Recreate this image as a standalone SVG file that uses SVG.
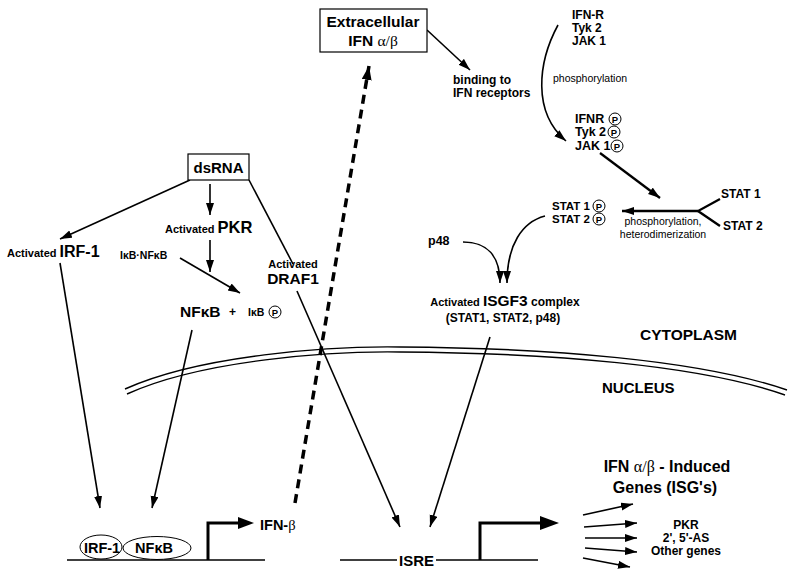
<svg xmlns="http://www.w3.org/2000/svg" width="795" height="576" viewBox="0 0 795 576">
<style>
text{font-family:"Liberation Sans",Arial,sans-serif;font-weight:bold;fill:#000}
.s{font-size:12px}
.m{font-size:15.5px}
.sm{font-size:11px}
.n{font-weight:normal;font-size:10.5px}
.g{font-family:"Liberation Serif",serif;font-weight:normal}
.ln{stroke:#000;fill:none;stroke-width:1.6}
.th{stroke:#000;fill:none;stroke-width:2.3}
.box{fill:#fff;stroke:#000;stroke-width:1.2}
.pc{fill:#fff;stroke:#000;stroke-width:1}
.pt{font-size:9.5px;text-anchor:middle}
</style>
<defs>
<marker id="ah" markerUnits="userSpaceOnUse" markerWidth="14" markerHeight="10" refX="12" refY="4" orient="auto">
<path d="M0,0 L12,4 L0,8 z" fill="#000"/>
</marker>
<marker id="ahb" markerUnits="userSpaceOnUse" markerWidth="16" markerHeight="12" refX="14" refY="5" orient="auto">
<path d="M0,0 L14,5 L0,10 z" fill="#000"/>
</marker>
</defs>

<g id="membrane" fill="none" stroke="#000" stroke-width="1.4">
<path d="M125,389 C200,355 330,346 400,347 C550,348 700,360 787,390"/>
<path d="M127,394 C202,360 330,351 400,352 C550,353 700,365 785,395"/>
</g>

<g id="connectors">
<line class="ln" x1="427" y1="30" x2="470" y2="70" marker-end="url(#ah)"/>
<line x1="295" y1="503" x2="369" y2="66" stroke="#000" stroke-width="3.5" stroke-dasharray="9,6" marker-end="url(#ahb)"/>
<path class="ln" d="M558,25 C538,62 532,112 566,141" marker-end="url(#ah)"/>
<line class="th" x1="600" y1="153" x2="660" y2="198" marker-end="url(#ah)"/>
<polyline class="th" points="720,199 698,211 720,226"/>
<line class="th" x1="698" y1="211" x2="622" y2="211" marker-end="url(#ah)"/>
<path class="ln" d="M463,242 C487,242 500,256 500,283" marker-end="url(#ah)"/>
<path class="ln" d="M545,216 C522,222 507,245 507,283" marker-end="url(#ah)"/>
<line class="ln" x1="490" y1="337" x2="430" y2="527" marker-end="url(#ah)"/>
<line class="ln" x1="190" y1="180" x2="60" y2="239" marker-end="url(#ah)"/>
<line class="ln" x1="210" y1="184" x2="210" y2="215" marker-end="url(#ah)"/>
<line class="ln" x1="210" y1="240" x2="210" y2="272" marker-end="url(#ah)"/>
<line class="ln" x1="180" y1="258" x2="240" y2="293" marker-end="url(#ah)"/>
<line class="ln" x1="60" y1="263" x2="100" y2="508" marker-end="url(#ah)"/>
<line class="ln" x1="192" y1="330" x2="152" y2="508" marker-end="url(#ah)"/>
<line class="ln" x1="249" y1="180" x2="293" y2="264"/>
<line class="ln" x1="297" y1="291" x2="400" y2="527" marker-end="url(#ah)"/>
<line class="ln" x1="583" y1="515" x2="633" y2="504" marker-end="url(#ah)"/>
<line class="ln" x1="584" y1="527" x2="637" y2="523" marker-end="url(#ah)"/>
<line class="ln" x1="585" y1="538" x2="637" y2="538" marker-end="url(#ah)"/>
<line class="ln" x1="585" y1="548" x2="637" y2="552" marker-end="url(#ah)"/>
<line class="ln" x1="583" y1="558" x2="630" y2="567" marker-end="url(#ah)"/>
</g>

<g id="extracellular">
<rect class="box" x="320" y="9" width="107" height="43"/>
<text class="m" x="373" y="27" text-anchor="middle">Extracellular</text>
<text class="m" x="373" y="46" text-anchor="middle">IFN <tspan class="g">α/β</tspan></text>
</g>

<g id="binding">
<text class="s" x="453" y="84">binding to</text>
<text class="s" x="453" y="97">IFN receptors</text>
</g>

<g id="receptors">
<text class="s" x="572" y="19">IFN-R</text>
<text class="s" x="572" y="32">Tyk 2</text>
<text class="s" x="572" y="45">JAK 1</text>
</g>
<text class="n" x="553" y="82">phosphorylation</text>

<g id="receptors-p">
<text x="575" y="123" font-size="12.5">IFNR</text>
<text x="575" y="136" font-size="12.5">Tyk 2</text>
<text x="575" y="150" font-size="12.5">JAK 1</text>
<circle class="pc" cx="615" cy="119" r="6"/><text class="pt" x="615" y="122.5">P</text>
<circle class="pc" cx="614" cy="132" r="6"/><text class="pt" x="614" y="135.5">P</text>
<circle class="pc" cx="617" cy="146" r="6"/><text class="pt" x="617" y="149.5">P</text>
</g>

<g id="stat">
<text class="s" x="721" y="198">STAT 1</text>
<text class="s" x="723" y="230">STAT 2</text>
</g>
<g id="phos-label">
<text class="n" x="663" y="225" text-anchor="middle">phosphorylation,</text>
<text class="n" x="663" y="238" text-anchor="middle">heterodimerization</text>
</g>

<g id="stat-p">
<text x="552" y="210" font-size="11.5">STAT 1</text>
<text x="552" y="223" font-size="11.5">STAT 2</text>
<circle class="pc" cx="599" cy="206" r="6"/><text class="pt" x="599" y="209.5">P</text>
<circle class="pc" cx="599" cy="219" r="6"/><text class="pt" x="599" y="222.5">P</text>
</g>

<g id="p48"><text x="428" y="245" font-size="12.5">p48</text></g>

<g id="isgf3">
<text x="505" y="306" text-anchor="middle"><tspan class="sm">Activated </tspan><tspan font-size="15.5">ISGF3</tspan><tspan font-size="12"> complex</tspan></text>
<text class="s" x="503" y="322" text-anchor="middle">(STAT1, STAT2, p48)</text>
</g>

<text x="640" y="340" font-size="15.5">CYTOPLASM</text>
<text x="602" y="393" font-size="15">NUCLEUS</text>

<g id="dsrna">
<rect class="box" x="188" y="154" width="61" height="26"/>
<text x="218.5" y="173" font-size="15" text-anchor="middle">dsRNA</text>
</g>

<g id="irf1"><text x="7" y="257"><tspan class="sm">Activated </tspan><tspan font-size="16">IRF-1</tspan></text></g>
<g id="pkr"><text x="165" y="233"><tspan class="sm">Activated </tspan><tspan font-size="16.5">PKR</tspan></text></g>
<g id="ikb-nfkb"><text x="120" y="259" font-size="10.5">IκB·NFκB</text></g>
<g id="nfkb">
<text x="180" y="317" class="m">NFκB</text>
<text x="229" y="316" font-size="12">+</text>
<text x="248" y="316" font-size="10.5">IκB</text>
<circle class="pc" cx="275" cy="312" r="6"/><text class="pt" x="275" y="315.5">P</text>
</g>
<g id="draf1">
<text class="sm" x="293" y="268" text-anchor="middle">Activated</text>
<text class="m" x="293" y="284" text-anchor="middle">DRAF1</text>
</g>

<g id="ifnb-gene">
<line x1="67" y1="560" x2="265" y2="560" stroke="#000" stroke-width="1.6"/>
<ellipse cx="101" cy="547" rx="21" ry="12" fill="#fff" stroke="#000" stroke-width="1"/>
<ellipse cx="157" cy="548" rx="34" ry="11.5" fill="#fff" stroke="#000" stroke-width="1"/>
<text x="102" y="553" font-size="14.5" text-anchor="middle">IRF-1</text>
<text x="154" y="553" font-size="14.5" text-anchor="middle">NFκB</text>
<polyline points="208,560 208,523 240,523" fill="none" stroke="#000" stroke-width="3"/>
<path d="M238,517 L254,523 L238,529 z" fill="#000"/>
<text x="260" y="530" font-size="14.5">IFN-<tspan class="g">β</tspan></text>
</g>

<g id="isre-gene">
<line x1="340" y1="560" x2="397" y2="560" stroke="#000" stroke-width="1.6"/>
<line x1="436" y1="560" x2="538" y2="560" stroke="#000" stroke-width="1.6"/>
<text x="416.5" y="566" font-size="15" text-anchor="middle">ISRE</text>
<polyline points="480,560 480,523 544,523" fill="none" stroke="#000" stroke-width="3"/>
<path d="M540,516 L559,523 L540,530 z" fill="#000"/>
</g>

<g id="isg">
<text x="667" y="472" font-size="16" text-anchor="middle">IFN <tspan class="g">α/β</tspan> - Induced</text>
<text x="665" y="493" font-size="16" text-anchor="middle">Genes (ISG's)</text>
</g>
<g id="isg-list">
<text class="s" x="686" y="529" text-anchor="middle">PKR</text>
<text class="s" x="686" y="542" text-anchor="middle">2', 5'-AS</text>
<text class="s" x="686" y="555" text-anchor="middle">Other genes</text>
</g>
</svg>
